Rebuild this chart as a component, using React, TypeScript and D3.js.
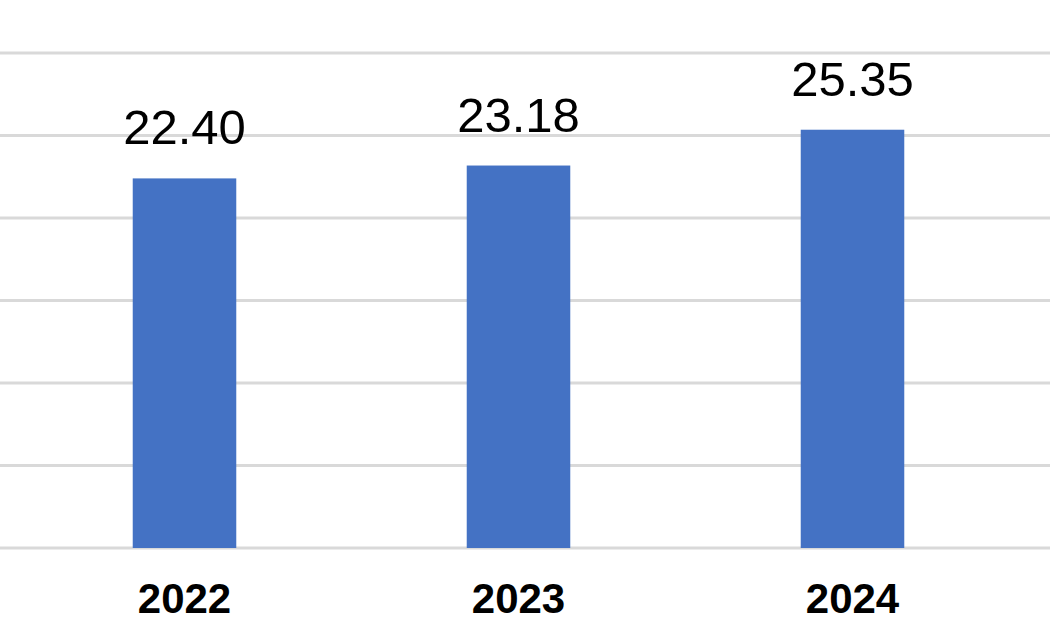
import React from "react";
import * as d3 from "d3";

const categories = ["2022", "2023", "2024"];
const values = [22.4, 23.18, 25.35];
const yTicks = [0, 5, 10, 15, 20, 25, 30];

const W = 1050;
const H = 630;

export default function App() {
  const x = d3
    .scaleBand<string>()
    .domain(categories)
    .range([17.5, 1019.5])
    .paddingInner(0.69)
    .paddingOuter(0.345);
  const y = d3.scaleLinear().domain([0, 30]).range([548, 53]);
  const font = "Liberation Sans, Arial, sans-serif";
  return (
    <svg
      width={W}
      height={H}
      style={{ position: "fixed", left: 0, top: 0, background: "#fff" }}
    >
      <rect x={0} y={0} width={W} height={H} fill="#fff" />
      {yTicks.map((t) => (
        <line
          key={t}
          x1={0}
          x2={W}
          y1={y(t)}
          y2={y(t)}
          stroke="#d9d9d9"
          strokeWidth={3}
        />
      ))}
      {categories.map((c, i) => (
        <g key={c}>
          <rect
            x={x(c)}
            y={y(values[i])}
            width={x.bandwidth()}
            height={y(0) - y(values[i])}
            fill="#4472C4"
          />
          <text
            x={(x(c) as number) + x.bandwidth() / 2}
            y={y(values[i]) - 34}
            textAnchor="middle"
            fontFamily={font}
            fontSize={49}
            fill="#000"
          >
            {values[i].toFixed(2)}
          </text>
          <text
            x={(x(c) as number) + x.bandwidth() / 2}
            y={613}
            textAnchor="middle"
            fontFamily={font}
            fontSize={42}
            fontWeight="bold"
            fill="#000"
          >
            {c}
          </text>
        </g>
      ))}
    </svg>
  );
}
